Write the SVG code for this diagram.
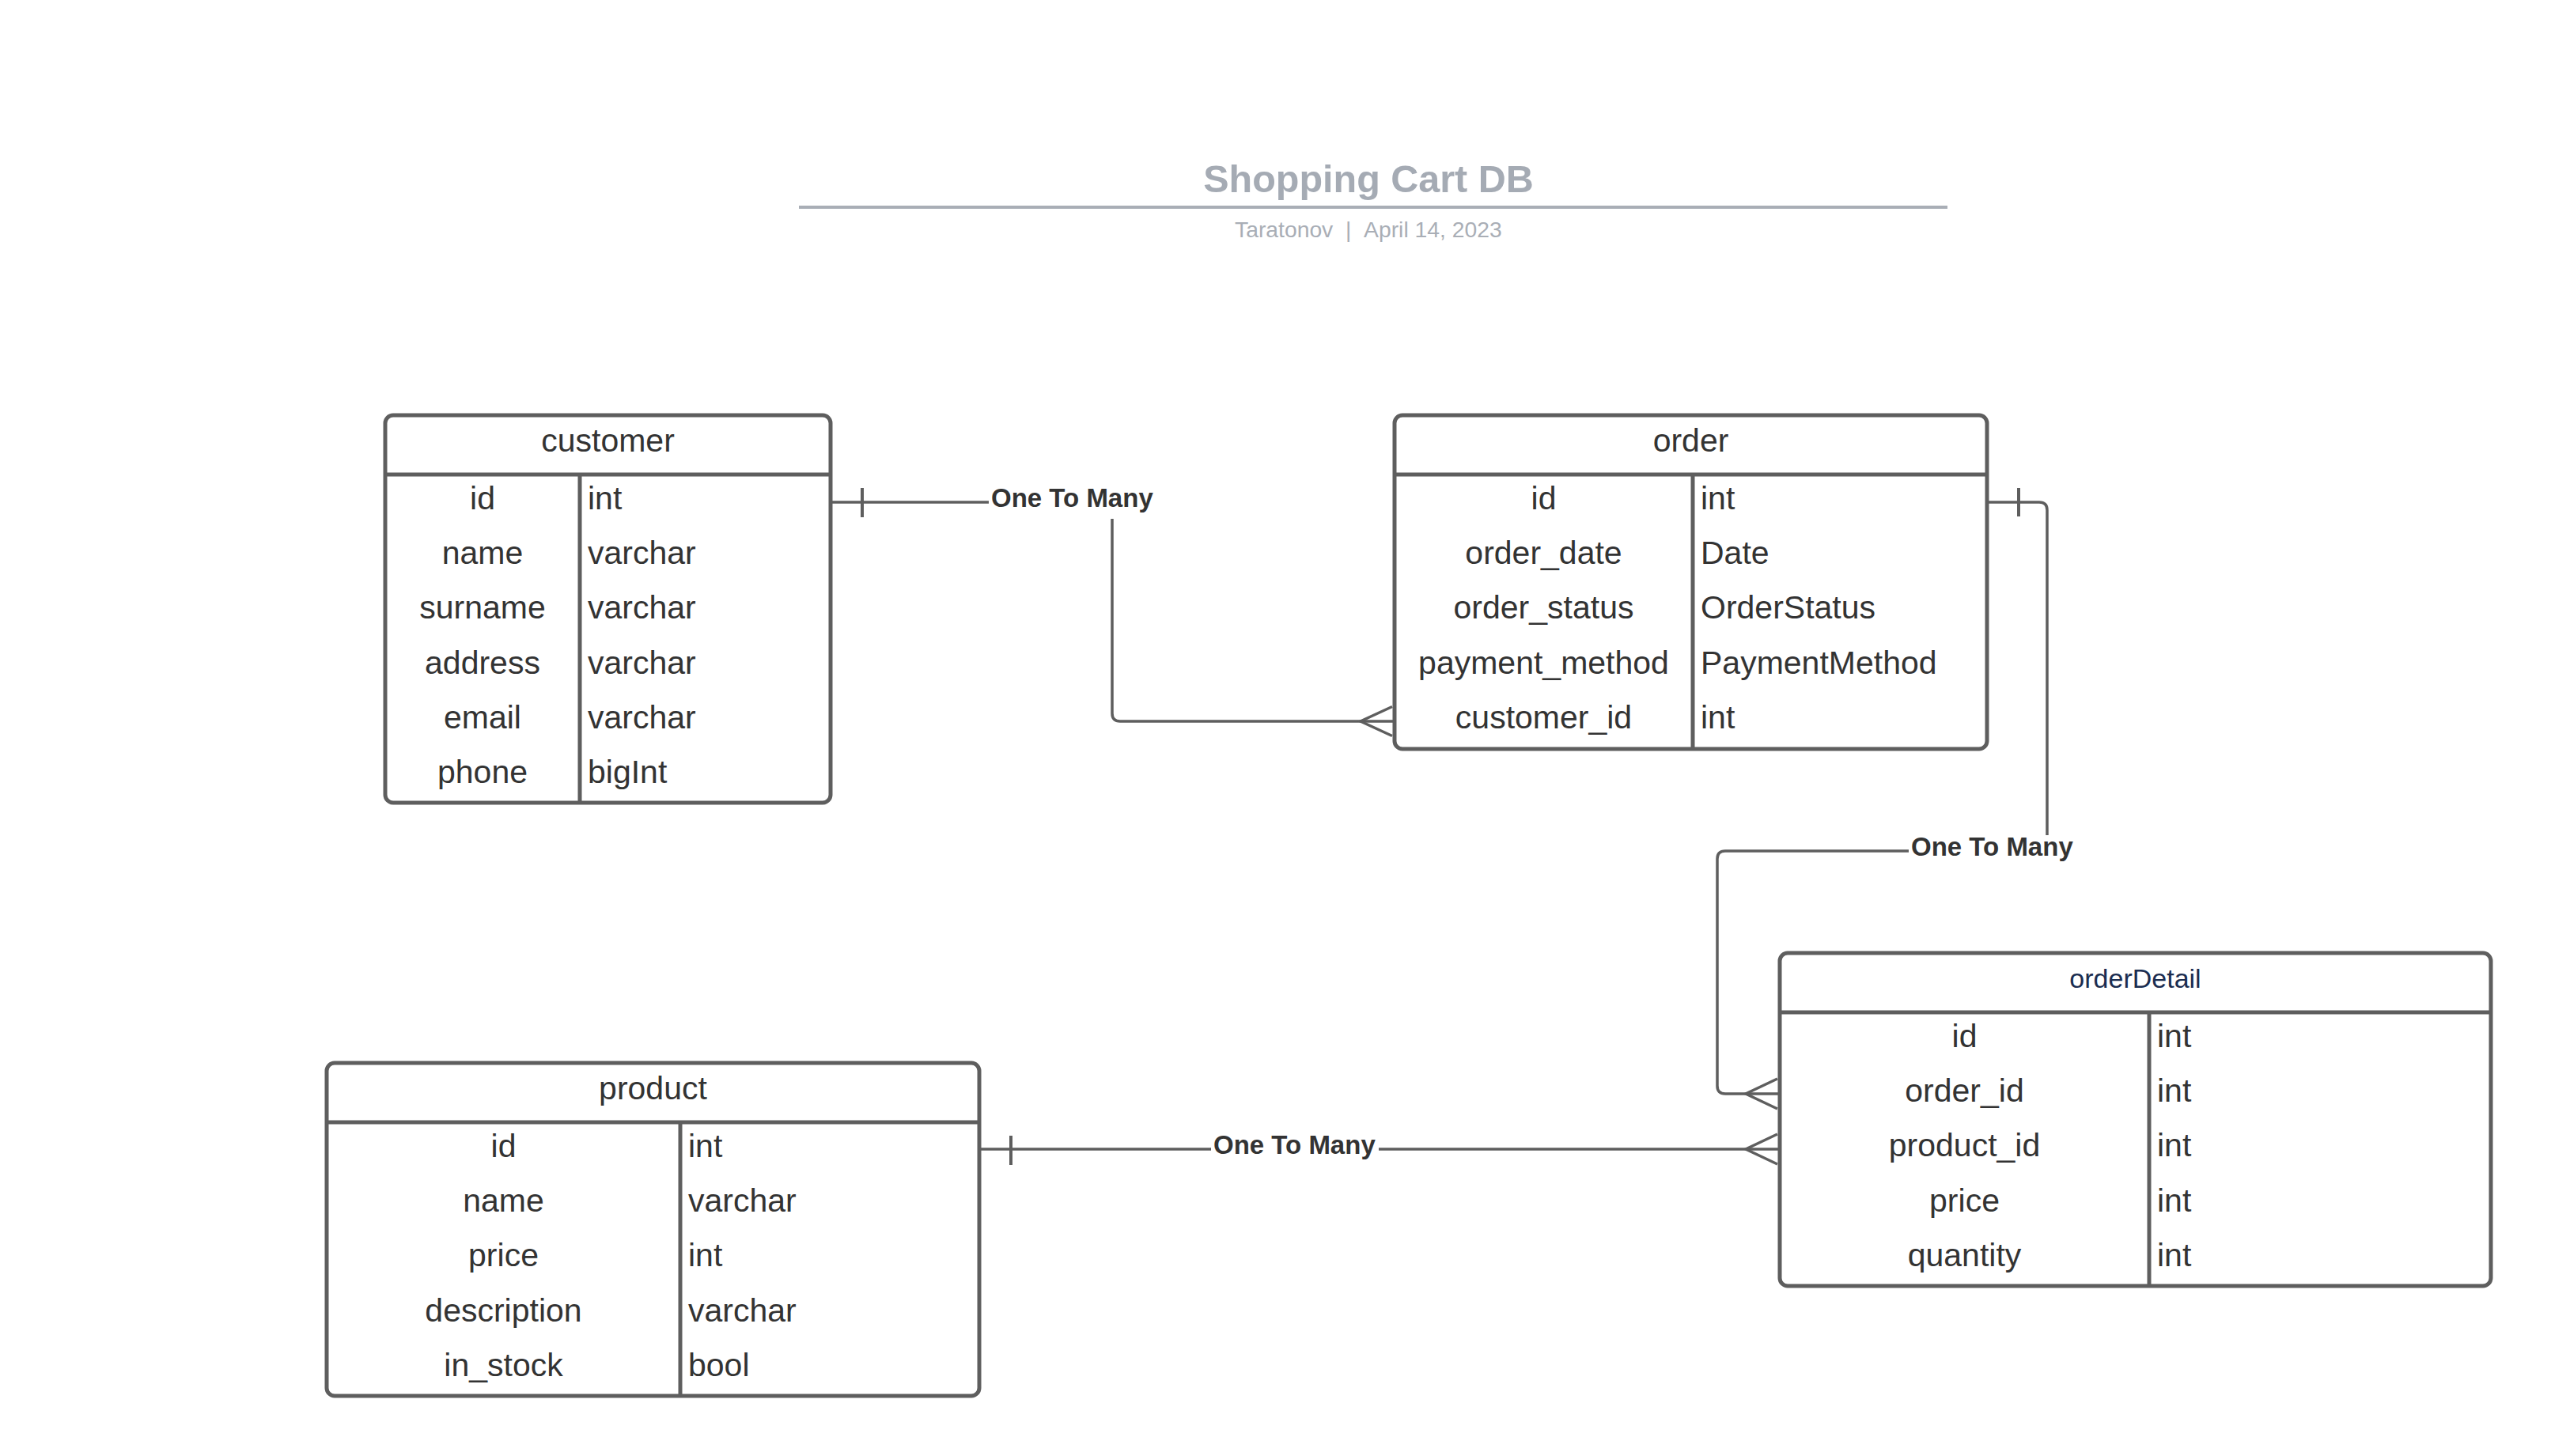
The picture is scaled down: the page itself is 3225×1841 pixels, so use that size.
<svg xmlns="http://www.w3.org/2000/svg" width="3225" height="1841" viewBox="0 0 3225 1841">
<style>
  .frame { fill: #ffffff; stroke: #5e5e5e; stroke-width: 5; }
  .sep { stroke: #5e5e5e; stroke-width: 5; fill: none; }
  .hdr { font-family: "Liberation Sans", Arial, sans-serif; font-size: 41px; fill: #333333; text-anchor: middle; }
  .hdr2 { font-family: "Liberation Sans", Arial, sans-serif; font-size: 34px; fill: #1b2d50; text-anchor: middle; }
  .fld { font-family: "Liberation Sans", Arial, sans-serif; font-size: 41px; fill: #333333; text-anchor: middle; }
  .typ { font-family: "Liberation Sans", Arial, sans-serif; font-size: 41px; fill: #333333; text-anchor: start; }
  .conn { stroke: #5e5e5e; stroke-width: 3.5; fill: none; }
  .tick { stroke: #5e5e5e; stroke-width: 4; fill: none; }
  .lblbg { fill: #ffffff; stroke: none; }
  .lbl { font-family: "Liberation Sans", Arial, sans-serif; font-size: 33px; font-weight: bold; fill: #333333; }
  .title { font-family: "Liberation Sans", Arial, sans-serif; font-size: 48.5px; font-weight: bold; fill: #a5abb4; text-anchor: middle; }
  .sub { font-family: "Liberation Sans", Arial, sans-serif; font-size: 28.3px; fill: #a9aeb6; }
</style>
<rect x="0" y="0" width="3225" height="1841" fill="#ffffff"/>

<g id="title">
  <text class="title" x="1730" y="243">Shopping Cart DB</text>
  <line x1="1010" y1="262" x2="2462" y2="262" stroke="#a9aeb6" stroke-width="4"/>
  <text class="sub" x="1561" y="300">Taratonov&#160;&#160;|&#160;&#160;April 14, 2023</text>
</g>

<g id="connectors">
  <!-- customer -> order -->
  <path class="conn" d="M1050,635 H1396 Q1406,635 1406,645 V902 Q1406,912 1416,912 H1763"/>
  <line class="tick" x1="1090" y1="617" x2="1090" y2="654"/>
  <path class="conn" d="M1760,893.5 L1720,912 L1760,930.5"/>
  <rect class="lblbg" x="1250" y="614" width="213" height="42"/>
  <text class="lbl" x="1253" y="641">One To Many</text>

  <!-- order -> orderDetail -->
  <path class="conn" d="M2512,635 H2578 Q2588,635 2588,645 V1066 Q2588,1076 2578,1076 H2181 Q2171,1076 2171,1086 V1373 Q2171,1383 2181,1383 H2250"/>
  <line class="tick" x1="2552" y1="617" x2="2552" y2="653"/>
  <path class="conn" d="M2247,1364 L2207,1383 L2247,1402"/>
  <rect class="lblbg" x="2413" y="1056" width="212" height="41"/>
  <text class="lbl" x="2416" y="1082">One To Many</text>

  <!-- product -> orderDetail -->
  <path class="conn" d="M1238,1453 H2250"/>
  <line class="tick" x1="1278" y1="1436" x2="1278" y2="1473"/>
  <path class="conn" d="M2247,1434 L2207,1453 L2247,1472"/>
  <rect class="lblbg" x="1531" y="1432" width="212" height="42"/>
  <text class="lbl" x="1534" y="1459">One To Many</text>
</g>

<g id="customer">
  <rect class="frame" x="487" y="525" width="563" height="490" rx="10" ry="10"/>
  <line class="sep" x1="487" y1="600" x2="1050" y2="600"/>
  <line class="sep" x1="733" y1="600" x2="733" y2="1015"/>
  <text class="hdr" x="768.5" y="571">customer</text>
  <text class="fld" x="610" y="644">id</text><text class="typ" x="743" y="644">int</text>
  <text class="fld" x="610" y="713">name</text><text class="typ" x="743" y="713">varchar</text>
  <text class="fld" x="610" y="782">surname</text><text class="typ" x="743" y="782">varchar</text>
  <text class="fld" x="610" y="852">address</text><text class="typ" x="743" y="852">varchar</text>
  <text class="fld" x="610" y="921">email</text><text class="typ" x="743" y="921">varchar</text>
  <text class="fld" x="610" y="990">phone</text><text class="typ" x="743" y="990">bigInt</text>
</g>

<g id="order">
  <rect class="frame" x="1763" y="525" width="749" height="422" rx="10" ry="10"/>
  <line class="sep" x1="1763" y1="600" x2="2512" y2="600"/>
  <line class="sep" x1="2140" y1="600" x2="2140" y2="947"/>
  <text class="hdr" x="2137.5" y="571">order</text>
  <text class="fld" x="1951.5" y="644">id</text><text class="typ" x="2150" y="644">int</text>
  <text class="fld" x="1951.5" y="713">order_date</text><text class="typ" x="2150" y="713">Date</text>
  <text class="fld" x="1951.5" y="782">order_status</text><text class="typ" x="2150" y="782">OrderStatus</text>
  <text class="fld" x="1951.5" y="852">payment_method</text><text class="typ" x="2150" y="852">PaymentMethod</text>
  <text class="fld" x="1951.5" y="921">customer_id</text><text class="typ" x="2150" y="921">int</text>
</g>

<g id="orderDetail">
  <rect class="frame" x="2250" y="1205" width="899" height="421" rx="10" ry="10"/>
  <line class="sep" x1="2250" y1="1280" x2="3149" y2="1280"/>
  <line class="sep" x1="2717" y1="1280" x2="2717" y2="1626"/>
  <text class="hdr2" x="2699.5" y="1249">orderDetail</text>
  <text class="fld" x="2483.5" y="1324">id</text><text class="typ" x="2727" y="1324">int</text>
  <text class="fld" x="2483.5" y="1393">order_id</text><text class="typ" x="2727" y="1393">int</text>
  <text class="fld" x="2483.5" y="1462">product_id</text><text class="typ" x="2727" y="1462">int</text>
  <text class="fld" x="2483.5" y="1532">price</text><text class="typ" x="2727" y="1532">int</text>
  <text class="fld" x="2483.5" y="1601">quantity</text><text class="typ" x="2727" y="1601">int</text>
</g>

<g id="product">
  <rect class="frame" x="413" y="1344" width="825" height="421" rx="10" ry="10"/>
  <line class="sep" x1="413" y1="1419" x2="1238" y2="1419"/>
  <line class="sep" x1="860" y1="1419" x2="860" y2="1765"/>
  <text class="hdr" x="825.5" y="1390">product</text>
  <text class="fld" x="636.5" y="1463">id</text><text class="typ" x="870" y="1463">int</text>
  <text class="fld" x="636.5" y="1532">name</text><text class="typ" x="870" y="1532">varchar</text>
  <text class="fld" x="636.5" y="1601">price</text><text class="typ" x="870" y="1601">int</text>
  <text class="fld" x="636.5" y="1671">description</text><text class="typ" x="870" y="1671">varchar</text>
  <text class="fld" x="636.5" y="1740">in_stock</text><text class="typ" x="870" y="1740">bool</text>
</g>
</svg>
